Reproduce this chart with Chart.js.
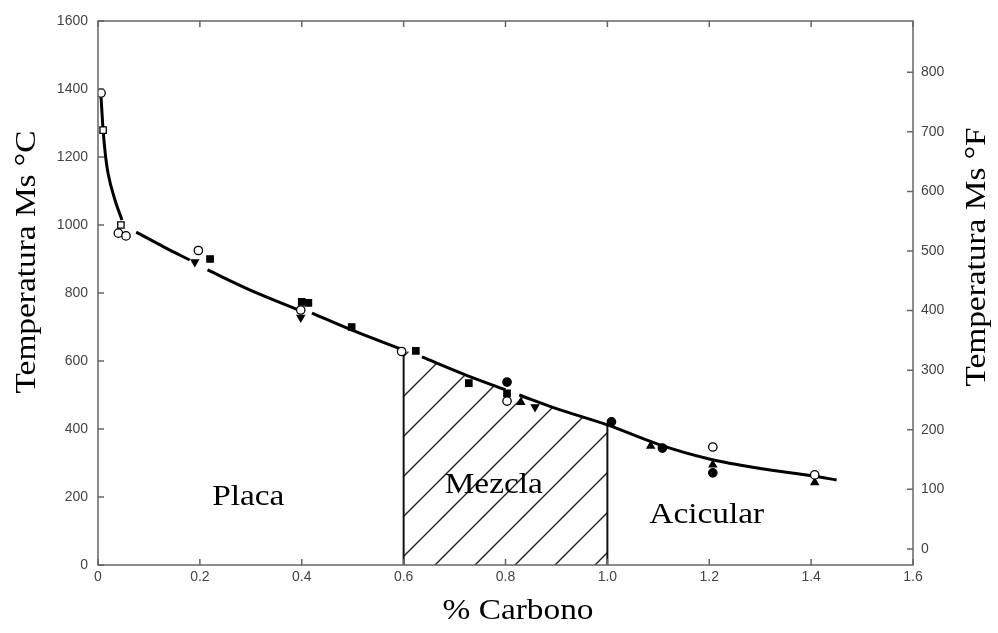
<!DOCTYPE html>
<html>
<head>
<meta charset="utf-8">
<script src="https://cdn.jsdelivr.net/npm/chart.js@4"></script>
<style>
  html, body { margin: 0; padding: 0; background: #fff; }
  #wrap { width: 998px; height: 633px; }
</style>
</head>
<body>
<div id="wrap"><canvas id="msChart" width="998" height="633"></canvas></div>
<script>
// curve (null = gap where the markers sit)
const curveC  = [0.006, 0.01, 0.015, 0.02, 0.033, 0.047, 0.06, 0.075, 0.13, 0.18, 0.2, 0.215, 0.3, 0.394, 0.41, 0.42, 0.5, 0.6, 0.62, 0.636, 0.72, 0.8, 0.815, 0.827, 0.9, 1.0, 1.1, 1.2, 1.3, 1.404, 1.45];
const curveMs = [1375, 1280, 1200, 1150, 1075, 1015, null, 979, 935, 897, null, 868, 808, 750, null, 741, 690, 632, null, 612, 560, 515, null, 500, 460, 412, 355, 312, 284, 262, 250];

// hatched "Mezcla" zone under the curve
const mixC  = [0.6, 0.636, 0.72, 0.8, 0.827, 0.9, 1.0];
const mixMs = [632, 612, 560, 515, 500, 460, 412];
const bounds = [0.6, 1.0];
const boundTop = [630, 412];

// markers
const openCircleC  = [0.006, 0.04, 0.055, 0.197, 0.398, 0.596, 0.803, 1.207, 1.407];
const openCircleMs = [1388, 976, 968, 925, 750, 628, 482, 347, 265];
const openSquareC  = [0.01, 0.045];
const openSquareMs = [1279, 1000];
const fillSquareC  = [0.22, 0.40, 0.413, 0.498, 0.624, 0.728, 0.803];
const fillSquareMs = [900, 774, 771, 700, 630, 535, 505];
const fillCircleC  = [0.803, 1.008, 1.108, 1.207];
const fillCircleMs = [538, 421, 344, 271];
const triangleC    = [0.83, 1.085, 1.207, 1.407];
const triangleMs   = [479, 350, 295, 243];
const invTriC      = [0.19, 0.398, 0.858];
const invTriMs     = [891, 728, 465];

const cTicks = [0, 200, 400, 600, 800, 1000, 1200, 1400, 1600];
const fTicks = [0, 100, 200, 300, 400, 500, 600, 700, 800];
const xTicks = [0, 0.2, 0.4, 0.6, 0.8, 1.0, 1.2, 1.4, 1.6];

const zones = ["Placa", "Mezcla", "Acicular"];
const zoneC = [0.295, 0.777, 1.195];
const zoneMs = [200, 235, 147];

const pts = (xs, ys) => xs.map((x, i) => ({ x: x, y: ys[i] }));

// hatch pattern "/"
const tile = document.createElement("canvas");
tile.width = 40; tile.height = 40;
const tc = tile.getContext("2d");
tc.strokeStyle = "#222";
tc.lineWidth = 1.4;
tc.beginPath();
tc.moveTo(0, 40); tc.lineTo(40, 0);
tc.moveTo(-10, 10); tc.lineTo(10, -10);
tc.moveTo(30, 50); tc.lineTo(50, 30);
tc.stroke();
const hatch = document.getElementById("msChart").getContext("2d").createPattern(tile, "repeat");

const gray = "#666";
const tickFont = { family: "Liberation Sans", size: 14 };

const marker = (label, xs, ys, style, filled, rot) => ({
  label: label,
  data: pts(xs, ys),
  pointStyle: style,
  rotation: rot || 0,
  pointRadius: style === "rect" ? 4.5 : 4.2,
  borderWidth: 1.3,
  borderColor: "#000",
  backgroundColor: filled ? "#000" : "#fff",
  showLine: false,
});

// serif text, a bit wider like the scanned original
const wideText = (ctx, text, x, y, angle) => {
  ctx.save();
  ctx.translate(x, y);
  ctx.rotate(angle);
  ctx.scale(1.15, 1);
  ctx.fillText(text, 0, 0);
  ctx.restore();
};

const frame = {
  id: "frame",
  afterDatasetsDraw(chart) {
    const { ctx, chartArea: a, scales } = chart;
    ctx.save();
    ctx.strokeStyle = gray;
    ctx.lineWidth = 1.5;
    ctx.strokeRect(a.left, a.top, a.right - a.left, a.bottom - a.top);
    ctx.beginPath();
    xTicks.forEach((v) => {
      const px = scales.x.getPixelForValue(v);
      ctx.moveTo(px, a.bottom); ctx.lineTo(px, a.bottom - 6);
      ctx.moveTo(px, a.top); ctx.lineTo(px, a.top + 6);
    });
    cTicks.forEach((v) => {
      const py = scales.y.getPixelForValue(v);
      ctx.moveTo(a.left, py); ctx.lineTo(a.left + 6, py);
    });
    fTicks.forEach((v) => {
      const py = scales.yF.getPixelForValue(v);
      ctx.moveTo(a.right, py); ctx.lineTo(a.right - 6, py);
    });
    ctx.stroke();

    ctx.fillStyle = "#000";
    ctx.textAlign = "center";
    ctx.textBaseline = "middle";
    ctx.font = "29px 'Liberation Serif'";
    zones.forEach((z, i) => {
      wideText(ctx, z, scales.x.getPixelForValue(zoneC[i]), scales.y.getPixelForValue(zoneMs[i]), 0);
    });
    wideText(ctx, "% Carbono", 518, 611, 0);
    wideText(ctx, "Temperatura Ms °C", 27, 262, -Math.PI / 2);
    wideText(ctx, "Temperatura Ms °F", 977, 257, -Math.PI / 2);
    ctx.restore();
  },
};

new Chart(document.getElementById("msChart"), {
  type: "scatter",
  data: {
    datasets: [
      {
        label: "Mezcla",
        data: pts(mixC, mixMs),
        showLine: true,
        fill: "origin",
        backgroundColor: hatch,
        borderWidth: 0,
        pointRadius: 0,
        tension: 0.3,
        order: 5,
      },
      {
        label: "limite 0.6",
        data: [{ x: bounds[0], y: 0 }, { x: bounds[0], y: boundTop[0] }],
        showLine: true,
        borderColor: "#111",
        borderWidth: 2,
        pointRadius: 0,
        order: 4,
      },
      {
        label: "limite 1.0",
        data: [{ x: bounds[1], y: 0 }, { x: bounds[1], y: boundTop[1] }],
        showLine: true,
        borderColor: "#111",
        borderWidth: 2,
        pointRadius: 0,
        order: 4,
      },
      {
        label: "Ms",
        data: pts(curveC, curveMs),
        showLine: true,
        spanGaps: false,
        borderColor: "#000",
        borderWidth: 3,
        pointRadius: 0,
        cubicInterpolationMode: "monotone",
        order: 3,
      },
      marker("abierto circulo", openCircleC, openCircleMs, "circle", false),
      marker("abierto cuadrado", openSquareC, openSquareMs, "rect", false),
      marker("cuadrado", fillSquareC, fillSquareMs, "rect", true),
      marker("circulo", fillCircleC, fillCircleMs, "circle", true),
      marker("triangulo", triangleC, triangleMs, "triangle", true),
      marker("triangulo inv", invTriC, invTriMs, "triangle", true, 180),
    ],
  },
  options: {
    responsive: false,
    animation: false,
    layout: { padding: { top: 21, left: 0, right: 0, bottom: 0 } },
    plugins: { legend: { display: false }, tooltip: { enabled: false } },
    scales: {
      x: {
        type: "linear",
        min: 0,
        max: 1.6,
        afterFit: (s) => { s.height = 68; },
        afterBuildTicks: (s) => { s.ticks = xTicks.map((v) => ({ value: v })); },
        grid: { display: false, drawTicks: false },
        border: { display: false },
        ticks: {
          font: tickFont,
          color: "#444",
          padding: 4,
          callback: (v) => (v === 0 ? "0" : v.toFixed(1)),
        },
      },
      y: {
        min: 0,
        max: 1600,
        afterFit: (s) => { s.width = 98; },
        afterBuildTicks: (s) => { s.ticks = cTicks.map((v) => ({ value: v })); },
        grid: { display: false, drawTicks: false },
        border: { display: false },
        ticks: { font: tickFont, color: "#444", padding: 10, callback: (v) => String(v) },
      },
      yF: {
        position: "right",
        min: -27,
        max: 886,
        afterFit: (s) => { s.width = 85; },
        afterBuildTicks: (s) => { s.ticks = fTicks.map((v) => ({ value: v })); },
        grid: { display: false, drawTicks: false },
        border: { display: false },
        ticks: { font: tickFont, color: "#444", padding: 8, callback: (v) => String(v) },
      },
    },
  },
  plugins: [frame],
});
</script>
</body>
</html>
